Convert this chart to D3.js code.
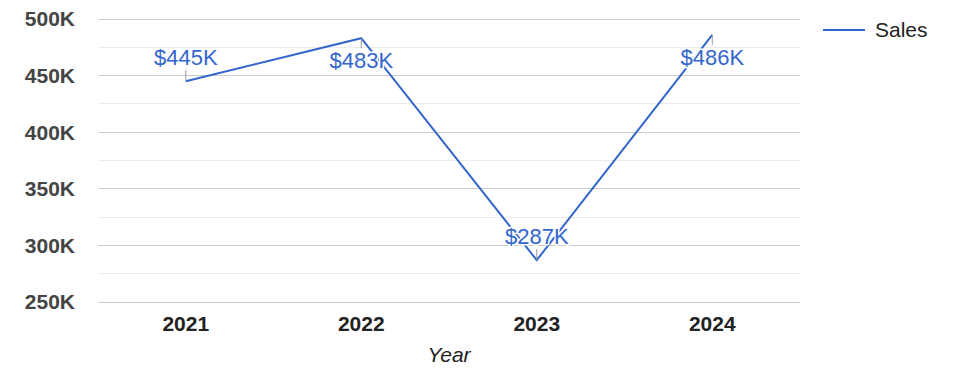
<!DOCTYPE html>
<html><head><meta charset="utf-8">
<script src="https://cdn.jsdelivr.net/npm/d3@7"></script>
<style>body{margin:0;background:#fff}svg{display:block;font-family:"Liberation Sans",Arial,sans-serif}</style>
</head><body><svg id="c" width="975" height="378"></svg>
<script>
const years = ["2021","2022","2023","2024"];
const sales = [445000, 483000, 287000, 486000];
const salesLabels = ["$445K","$483K","$287K","$486K"];
const labelSide = ["up","down","up","down"];
const yTicks = [250000,300000,350000,400000,450000,500000];
const yTickLabels = ["250K","300K","350K","400K","450K","500K"];
const yMinor = [275000,325000,375000,425000,475000];
const seriesName = "Sales";
const xTitle = "Year";

(function(){
const svg = d3.select("#c");
const pLeft = 98, pRight = 800, pTop = 19, pBottom = 302;
const x = d3.scalePoint().domain(years).range([pLeft, pRight]).padding(0.5);
const y = d3.scaleLinear().domain([250000, 500000]).range([pBottom, pTop]);
const blue = "#3366cc";

svg.append("g").selectAll("line").data(yMinor).join("line")
  .attr("x1", pLeft).attr("x2", pRight).attr("y1", d=>y(d)).attr("y2", d=>y(d))
  .attr("stroke", "#ebebeb").attr("stroke-width", 1).attr("shape-rendering","crispEdges");
svg.append("g").selectAll("line").data(yTicks).join("line")
  .attr("x1", pLeft).attr("x2", pRight).attr("y1", d=>y(d)).attr("y2", d=>y(d))
  .attr("stroke", "#cccccc").attr("stroke-width", 1).attr("shape-rendering","crispEdges");

svg.append("g").selectAll("text").data(yTicks).join("text")
  .attr("x", 75).attr("y", d=>y(d)).attr("dy","0.35em").attr("text-anchor","end")
  .attr("font-size", 21).attr("font-weight","bold").attr("fill","#444")
  .text((d,i)=>yTickLabels[i]);

svg.append("g").selectAll("text").data(years).join("text")
  .attr("x", d=>x(d)).attr("y", 331).attr("text-anchor","middle")
  .attr("font-size", 21).attr("font-weight","bold").attr("fill","#222")
  .text(d=>d);

svg.append("text").attr("x", (pLeft+pRight)/2).attr("y", 362).attr("text-anchor","middle")
  .attr("font-size", 21).attr("font-style","italic").attr("fill","#222").text(xTitle);

const line = d3.line().x((d,i)=>x(years[i])).y(d=>y(d));
svg.append("path").datum(sales).attr("d", line).attr("fill","none")
  .attr("stroke", blue).attr("stroke-width", 2);

const ann = svg.append("g");
sales.forEach((v,i)=>{
  const px = x(years[i]), py = y(v);
  const up = labelSide[i] === "up";
  const stemEnd = up ? py - 11 : py + 10;
  ann.append("line").attr("x1", px).attr("x2", px).attr("y1", py).attr("y2", stemEnd)
    .attr("stroke", "#999").attr("stroke-width", 1);
  const ty = up ? stemEnd - 5 : stemEnd + 20;
  ann.append("text").attr("x", px).attr("y", ty).attr("text-anchor","middle")
    .attr("font-size", 22).attr("fill", blue)
    .attr("stroke","#fff").attr("stroke-width",3).attr("paint-order","stroke")
    .attr("stroke-linejoin","round")
    .text(salesLabels[i]);
});

svg.append("line").attr("x1", 823).attr("x2", 865).attr("y1", 30).attr("y2", 30)
  .attr("stroke", blue).attr("stroke-width", 2);
svg.append("text").attr("x", 875).attr("y", 30).attr("dy","0.35em")
  .attr("font-size", 21).attr("fill","#222").text(seriesName);
})();
</script></body></html>
